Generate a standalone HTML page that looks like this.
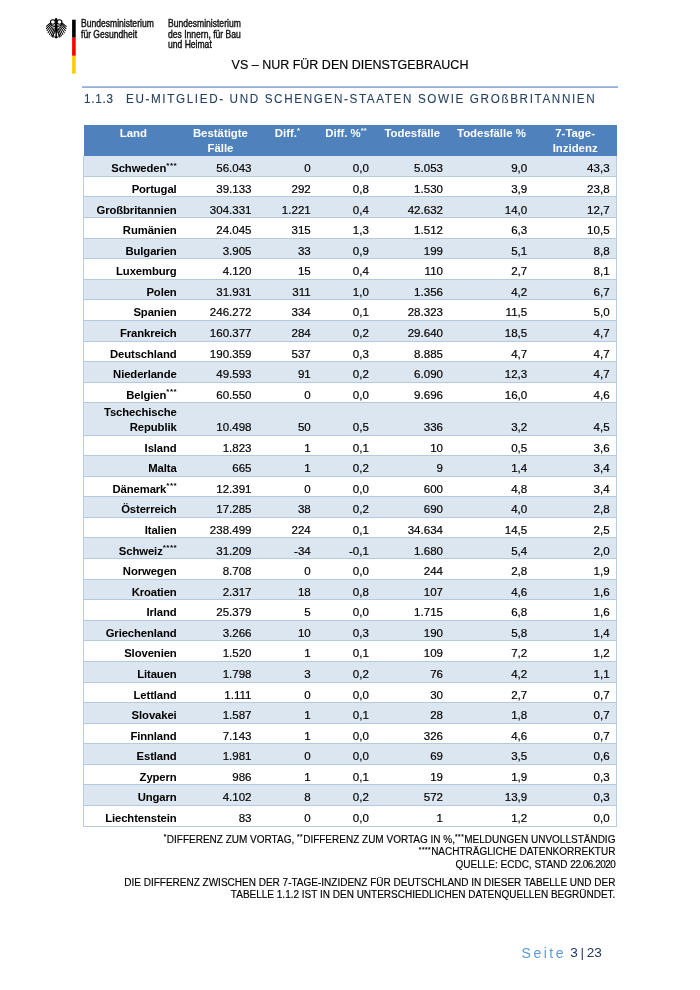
<!DOCTYPE html>
<html lang="de"><head><meta charset="utf-8"><title>Lagebericht Seite 3</title>
<style>
*{margin:0;padding:0;box-sizing:border-box}
html,body{width:700px;height:990px;background:#fff;overflow:hidden}
body{position:relative;font-family:"Liberation Sans",sans-serif;color:#000}
.abs{position:absolute;white-space:nowrap}
.logo{position:absolute;font-size:10.2px;line-height:10.5px;color:#111;white-space:nowrap;transform-origin:0 0;transform:scaleX(.84);-webkit-text-stroke:.4px #111}
.vs{left:0;width:700px;text-align:center;top:57.5px;font-size:12.5px;line-height:14px;letter-spacing:0;-webkit-text-stroke:.15px #000}
.h3{top:91.9px;font-size:13.6px;line-height:14px;color:#243f60;letter-spacing:1.89px;-webkit-text-stroke:.1px #243f60;transform-origin:0 0;transform:scaleX(.86)}
.rule{position:absolute;left:82px;width:536px;top:86px;height:2px;background:linear-gradient(#a9c0e2 0,#a9c0e2 50%,#94afdc 50%,#94afdc 100%)}
.thead{position:absolute;left:83.6px;top:124.8px;width:533.2px;height:31.5px;background:#4f81bd;display:flex;color:#fff;font-weight:bold;font-size:11.4px;line-height:15px;text-align:center}
.thead div{padding-top:1px;flex:none}
.thead sup{font-size:7.5px;vertical-align:baseline;position:relative;top:-3.8px;letter-spacing:.2px;line-height:0}
.r{position:absolute;left:83px;width:534px;display:flex;align-items:flex-end;border-bottom:1px solid #b5c9e3;border-left:1px solid #b8cce4;border-right:1px solid #b8cce4;font-size:11.55px;line-height:15.4px}
.r.b{background:#dce6f1}
.r div{flex:none;text-align:right;padding:0 6.35px 0 0;white-space:nowrap;position:relative;top:.9px;-webkit-text-stroke:.18px #000}
.r div:first-child{font-weight:bold;font-size:11.3px;letter-spacing:-.1px;-webkit-text-stroke:0}
.r sup{font-size:8px;font-weight:bold;vertical-align:baseline;position:relative;top:-4.6px;line-height:0;letter-spacing:.5px;margin-right:-.5px}
.fn{position:absolute;right:84.6px;text-align:right;font-size:10px;line-height:12.5px;color:#000;white-space:nowrap;letter-spacing:0;-webkit-text-stroke:.15px #000}
.fn sup{font-size:6.5px;vertical-align:baseline;position:relative;top:-3.6px;line-height:0;letter-spacing:.55px}
.pg{top:945.1px;font-size:14px;line-height:16px}
</style></head>
<body>
<svg style="position:absolute;left:46.4px;top:18.2px" width="20.8" height="20.5" viewBox="0 0 100 100" preserveAspectRatio="none"><ellipse cx="33" cy="19.5" rx="11.5" ry="11" fill="none" stroke="#000" stroke-width="5"/><path d="M19 27 C26 38 37 42 46 40" fill="none" stroke="#000" stroke-width="6"/><path d="M20 25 L1 41" stroke="#000" stroke-width="5" stroke-linecap="round" fill="none"/><path d="M20 32 L2 52" stroke="#000" stroke-width="5" stroke-linecap="round" fill="none"/><path d="M24 38 L5 62" stroke="#000" stroke-width="5" stroke-linecap="round" fill="none"/><path d="M29 43 L10 72" stroke="#000" stroke-width="5" stroke-linecap="round" fill="none"/><path d="M34 47 L17 80" stroke="#000" stroke-width="5" stroke-linecap="round" fill="none"/><path d="M39 51 L24 87" stroke="#000" stroke-width="5" stroke-linecap="round" fill="none"/><path d="M44 56 L31 92" stroke="#000" stroke-width="5" stroke-linecap="round" fill="none"/><path d="M46 64 L35 82 M35 82 L28 90 M35 82 L35 94 M35 82 L41 92" stroke="#000" stroke-width="3.4" stroke-linecap="round" fill="none"/><ellipse cx="65" cy="19.5" rx="11.5" ry="11" fill="none" stroke="#000" stroke-width="5"/><path d="M79 27 C72 38 61 42 52 40" fill="none" stroke="#000" stroke-width="6"/><path d="M78 25 L97 41" stroke="#000" stroke-width="5" stroke-linecap="round" fill="none"/><path d="M78 32 L96 52" stroke="#000" stroke-width="5" stroke-linecap="round" fill="none"/><path d="M74 38 L93 62" stroke="#000" stroke-width="5" stroke-linecap="round" fill="none"/><path d="M69 43 L88 72" stroke="#000" stroke-width="5" stroke-linecap="round" fill="none"/><path d="M64 47 L81 80" stroke="#000" stroke-width="5" stroke-linecap="round" fill="none"/><path d="M59 51 L74 87" stroke="#000" stroke-width="5" stroke-linecap="round" fill="none"/><path d="M54 56 L67 92" stroke="#000" stroke-width="5" stroke-linecap="round" fill="none"/><path d="M52 64 L63 82 M63 82 L70 90 M63 82 L63 94 M63 82 L57 92" stroke="#000" stroke-width="3.4" stroke-linecap="round" fill="none"/><path d="M49 0 C44 0 41 5 43 9 L36 11 L44 14 C45.5 21 45 27 42.5 35 C41.5 46 43 57 45.5 67 L45.5 88 L41 96 L49 100 L57 96 L52.5 88 L52.5 67 C55 57 56.5 46 55.5 35 C53 27 52.5 21 54 14 C57 9 55 0 49 0Z" fill="#000"/></svg>
<svg style="position:absolute;left:70px;top:18px" width="8" height="58" viewBox="0 0 8 58"><rect x="2.1" y="1.7" width="3.6" height="18" fill="#000"/><rect x="2.1" y="19.6" width="3.6" height="18.2" fill="#f00"/><rect x="2.1" y="37.8" width="3.6" height="17.9" fill="#fc0"/></svg>
<div class="logo" style="left:80.9px;top:19.3px">Bundesministerium<br>für Gesundheit</div>
<div class="logo" style="left:167.7px;top:19.3px">Bundesministerium<br>des Innern, für Bau<br>und Heimat</div>
<div class="abs vs">VS – NUR FÜR DEN DIENSTGEBRAUCH</div>
<div class="rule"></div>
<div class="abs h3" style="left:84.1px;letter-spacing:.84px">1.1.3</div>
<div class="abs h3" style="left:126.4px">EU-MITGLIED- UND SCHENGEN-STAATEN SOWIE GROßBRITANNIEN</div>
<div class="thead"><div style="width:99.4px">Land</div><div style="width:74.9px">Bestätigte<br>Fälle</div><div style="width:59.2px">Diff.<sup>*</sup></div><div style="width:58.1px">Diff. %<sup>**</sup></div><div style="width:74.2px">Todesfälle</div><div style="width:84.2px">Todesfälle %</div><div style="width:83.2px">7-Tage-<br>Inzidenz</div></div>
<div style="position:absolute;left:84px;top:156px;width:532px;height:1px;background:rgba(255,255,255,.4)"></div>
<div class="r b" style="top:156.3px;height:20.58px"><div style="width:99.0px">Schweden<sup>***</sup></div><div style="width:74.9px">56.043</div><div style="width:59.2px">0</div><div style="width:58.1px">0,0</div><div style="width:74.2px">5.053</div><div style="width:84.2px">9,0</div><div style="width:82.4px">43,3</div></div>
<div class="r" style="top:176.88px;height:20.58px"><div style="width:99.0px">Portugal</div><div style="width:74.9px">39.133</div><div style="width:59.2px">292</div><div style="width:58.1px">0,8</div><div style="width:74.2px">1.530</div><div style="width:84.2px">3,9</div><div style="width:82.4px">23,8</div></div>
<div class="r b" style="top:197.46px;height:20.58px"><div style="width:99.0px">Großbritannien</div><div style="width:74.9px">304.331</div><div style="width:59.2px">1.221</div><div style="width:58.1px">0,4</div><div style="width:74.2px">42.632</div><div style="width:84.2px">14,0</div><div style="width:82.4px">12,7</div></div>
<div class="r" style="top:218.04px;height:20.58px"><div style="width:99.0px">Rumänien</div><div style="width:74.9px">24.045</div><div style="width:59.2px">315</div><div style="width:58.1px">1,3</div><div style="width:74.2px">1.512</div><div style="width:84.2px">6,3</div><div style="width:82.4px">10,5</div></div>
<div class="r b" style="top:238.62px;height:20.58px"><div style="width:99.0px">Bulgarien</div><div style="width:74.9px">3.905</div><div style="width:59.2px">33</div><div style="width:58.1px">0,9</div><div style="width:74.2px">199</div><div style="width:84.2px">5,1</div><div style="width:82.4px">8,8</div></div>
<div class="r" style="top:259.2px;height:20.58px"><div style="width:99.0px">Luxemburg</div><div style="width:74.9px">4.120</div><div style="width:59.2px">15</div><div style="width:58.1px">0,4</div><div style="width:74.2px">110</div><div style="width:84.2px">2,7</div><div style="width:82.4px">8,1</div></div>
<div class="r b" style="top:279.78px;height:20.58px"><div style="width:99.0px">Polen</div><div style="width:74.9px">31.931</div><div style="width:59.2px">311</div><div style="width:58.1px">1,0</div><div style="width:74.2px">1.356</div><div style="width:84.2px">4,2</div><div style="width:82.4px">6,7</div></div>
<div class="r" style="top:300.36px;height:20.58px"><div style="width:99.0px">Spanien</div><div style="width:74.9px">246.272</div><div style="width:59.2px">334</div><div style="width:58.1px">0,1</div><div style="width:74.2px">28.323</div><div style="width:84.2px">11,5</div><div style="width:82.4px">5,0</div></div>
<div class="r b" style="top:320.94px;height:20.58px"><div style="width:99.0px">Frankreich</div><div style="width:74.9px">160.377</div><div style="width:59.2px">284</div><div style="width:58.1px">0,2</div><div style="width:74.2px">29.640</div><div style="width:84.2px">18,5</div><div style="width:82.4px">4,7</div></div>
<div class="r" style="top:341.52px;height:20.58px"><div style="width:99.0px">Deutschland</div><div style="width:74.9px">190.359</div><div style="width:59.2px">537</div><div style="width:58.1px">0,3</div><div style="width:74.2px">8.885</div><div style="width:84.2px">4,7</div><div style="width:82.4px">4,7</div></div>
<div class="r b" style="top:362.1px;height:20.58px"><div style="width:99.0px">Niederlande</div><div style="width:74.9px">49.593</div><div style="width:59.2px">91</div><div style="width:58.1px">0,2</div><div style="width:74.2px">6.090</div><div style="width:84.2px">12,3</div><div style="width:82.4px">4,7</div></div>
<div class="r" style="top:382.68px;height:20.58px"><div style="width:99.0px">Belgien<sup>***</sup></div><div style="width:74.9px">60.550</div><div style="width:59.2px">0</div><div style="width:58.1px">0,0</div><div style="width:74.2px">9.696</div><div style="width:84.2px">16,0</div><div style="width:82.4px">4,6</div></div>
<div class="r b" style="top:403.26px;height:32.3px"><div style="width:99.0px">Tschechische<br>Republik</div><div style="width:74.9px">10.498</div><div style="width:59.2px">50</div><div style="width:58.1px">0,5</div><div style="width:74.2px">336</div><div style="width:84.2px">3,2</div><div style="width:82.4px">4,5</div></div>
<div class="r" style="top:435.56px;height:20.58px"><div style="width:99.0px">Island</div><div style="width:74.9px">1.823</div><div style="width:59.2px">1</div><div style="width:58.1px">0,1</div><div style="width:74.2px">10</div><div style="width:84.2px">0,5</div><div style="width:82.4px">3,6</div></div>
<div class="r b" style="top:456.14px;height:20.58px"><div style="width:99.0px">Malta</div><div style="width:74.9px">665</div><div style="width:59.2px">1</div><div style="width:58.1px">0,2</div><div style="width:74.2px">9</div><div style="width:84.2px">1,4</div><div style="width:82.4px">3,4</div></div>
<div class="r" style="top:476.72px;height:20.58px"><div style="width:99.0px">Dänemark<sup>***</sup></div><div style="width:74.9px">12.391</div><div style="width:59.2px">0</div><div style="width:58.1px">0,0</div><div style="width:74.2px">600</div><div style="width:84.2px">4,8</div><div style="width:82.4px">3,4</div></div>
<div class="r b" style="top:497.3px;height:20.58px"><div style="width:99.0px">Österreich</div><div style="width:74.9px">17.285</div><div style="width:59.2px">38</div><div style="width:58.1px">0,2</div><div style="width:74.2px">690</div><div style="width:84.2px">4,0</div><div style="width:82.4px">2,8</div></div>
<div class="r" style="top:517.88px;height:20.58px"><div style="width:99.0px">Italien</div><div style="width:74.9px">238.499</div><div style="width:59.2px">224</div><div style="width:58.1px">0,1</div><div style="width:74.2px">34.634</div><div style="width:84.2px">14,5</div><div style="width:82.4px">2,5</div></div>
<div class="r b" style="top:538.46px;height:20.58px"><div style="width:99.0px">Schweiz<sup>****</sup></div><div style="width:74.9px">31.209</div><div style="width:59.2px">-34</div><div style="width:58.1px">-0,1</div><div style="width:74.2px">1.680</div><div style="width:84.2px">5,4</div><div style="width:82.4px">2,0</div></div>
<div class="r" style="top:559.04px;height:20.58px"><div style="width:99.0px">Norwegen</div><div style="width:74.9px">8.708</div><div style="width:59.2px">0</div><div style="width:58.1px">0,0</div><div style="width:74.2px">244</div><div style="width:84.2px">2,8</div><div style="width:82.4px">1,9</div></div>
<div class="r b" style="top:579.62px;height:20.58px"><div style="width:99.0px">Kroatien</div><div style="width:74.9px">2.317</div><div style="width:59.2px">18</div><div style="width:58.1px">0,8</div><div style="width:74.2px">107</div><div style="width:84.2px">4,6</div><div style="width:82.4px">1,6</div></div>
<div class="r" style="top:600.2px;height:20.58px"><div style="width:99.0px">Irland</div><div style="width:74.9px">25.379</div><div style="width:59.2px">5</div><div style="width:58.1px">0,0</div><div style="width:74.2px">1.715</div><div style="width:84.2px">6,8</div><div style="width:82.4px">1,6</div></div>
<div class="r b" style="top:620.78px;height:20.58px"><div style="width:99.0px">Griechenland</div><div style="width:74.9px">3.266</div><div style="width:59.2px">10</div><div style="width:58.1px">0,3</div><div style="width:74.2px">190</div><div style="width:84.2px">5,8</div><div style="width:82.4px">1,4</div></div>
<div class="r" style="top:641.36px;height:20.58px"><div style="width:99.0px">Slovenien</div><div style="width:74.9px">1.520</div><div style="width:59.2px">1</div><div style="width:58.1px">0,1</div><div style="width:74.2px">109</div><div style="width:84.2px">7,2</div><div style="width:82.4px">1,2</div></div>
<div class="r b" style="top:661.94px;height:20.58px"><div style="width:99.0px">Litauen</div><div style="width:74.9px">1.798</div><div style="width:59.2px">3</div><div style="width:58.1px">0,2</div><div style="width:74.2px">76</div><div style="width:84.2px">4,2</div><div style="width:82.4px">1,1</div></div>
<div class="r" style="top:682.52px;height:20.58px"><div style="width:99.0px">Lettland</div><div style="width:74.9px">1.111</div><div style="width:59.2px">0</div><div style="width:58.1px">0,0</div><div style="width:74.2px">30</div><div style="width:84.2px">2,7</div><div style="width:82.4px">0,7</div></div>
<div class="r b" style="top:703.1px;height:20.58px"><div style="width:99.0px">Slovakei</div><div style="width:74.9px">1.587</div><div style="width:59.2px">1</div><div style="width:58.1px">0,1</div><div style="width:74.2px">28</div><div style="width:84.2px">1,8</div><div style="width:82.4px">0,7</div></div>
<div class="r" style="top:723.68px;height:20.58px"><div style="width:99.0px">Finnland</div><div style="width:74.9px">7.143</div><div style="width:59.2px">1</div><div style="width:58.1px">0,0</div><div style="width:74.2px">326</div><div style="width:84.2px">4,6</div><div style="width:82.4px">0,7</div></div>
<div class="r b" style="top:744.26px;height:20.58px"><div style="width:99.0px">Estland</div><div style="width:74.9px">1.981</div><div style="width:59.2px">0</div><div style="width:58.1px">0,0</div><div style="width:74.2px">69</div><div style="width:84.2px">3,5</div><div style="width:82.4px">0,6</div></div>
<div class="r" style="top:764.84px;height:20.58px"><div style="width:99.0px">Zypern</div><div style="width:74.9px">986</div><div style="width:59.2px">1</div><div style="width:58.1px">0,1</div><div style="width:74.2px">19</div><div style="width:84.2px">1,9</div><div style="width:82.4px">0,3</div></div>
<div class="r b" style="top:785.42px;height:20.58px"><div style="width:99.0px">Ungarn</div><div style="width:74.9px">4.102</div><div style="width:59.2px">8</div><div style="width:58.1px">0,2</div><div style="width:74.2px">572</div><div style="width:84.2px">13,9</div><div style="width:82.4px">0,3</div></div>
<div class="r" style="top:806.0px;height:20.58px"><div style="width:99.0px">Liechtenstein</div><div style="width:74.9px">83</div><div style="width:59.2px">0</div><div style="width:58.1px">0,0</div><div style="width:74.2px">1</div><div style="width:84.2px">1,2</div><div style="width:82.4px">0,0</div></div>
<div class="fn" style="top:833.9px"><sup>*</sup>DIFFERENZ ZUM VORTAG, <sup>**</sup>DIFFERENZ ZUM VORTAG IN %,<sup>***</sup>MELDUNGEN UNVOLLSTÄNDIG<br><sup>****</sup>NACHTRÄGLICHE DATENKORREKTUR<br>QUELLE: ECDC, STAND <span style="letter-spacing:-.5px">22.06.2020</span></div>
<div class="fn" style="top:876.9px">DIE DIFFERENZ ZWISCHEN DER 7-TAGE-INZIDENZ FÜR DEUTSCHLAND IN DIESER TABELLE UND DER<br>TABELLE 1.1.2 IST IN DEN UNTERSCHIEDLICHEN DATENQUELLEN BEGRÜNDET.</div>
<div class="abs pg" style="left:521.6px;color:#5b9bd5;letter-spacing:2.5px">Seite</div>
<div class="abs pg" style="left:570.3px;color:#1f3864;font-size:13.6px">3<span style="display:inline-block;width:9px;text-align:center;position:relative;top:-.5px">|</span><span style="letter-spacing:-.25px">23</span></div>
</body></html>
